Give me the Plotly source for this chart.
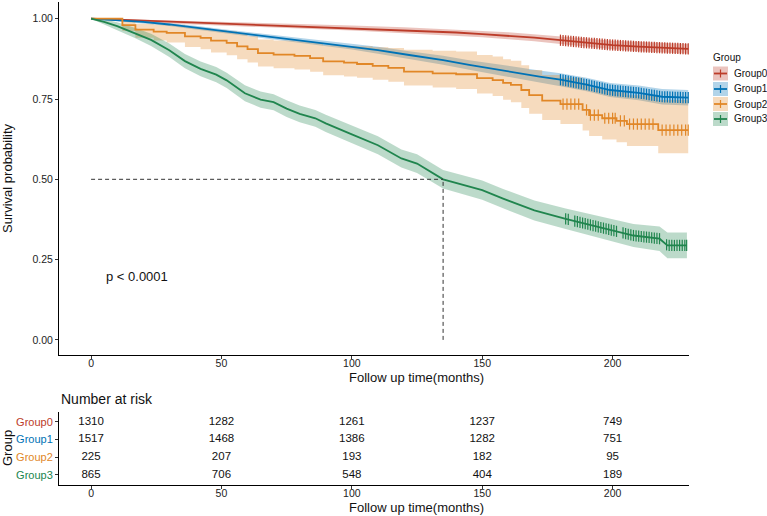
import numpy as np
import plotly.graph_objects as go

W, H = 767, 516
FONT = "Liberation Sans, Arial, Helvetica, sans-serif"

groups = ["Group0", "Group1", "Group2", "Group3"]
colors = ["#BC3C29", "#0072B5", "#E18727", "#20854E"]
band_colors = ["rgba(188,60,41,0.30)", "rgba(0,114,181,0.30)",
               "rgba(225,135,39,0.30)", "rgba(32,133,78,0.30)"]

# ---------------- survival data ----------------
g0_time = [0, 10, 20, 30, 40, 50, 60, 80, 100, 120, 140, 150, 160, 170, 180, 190, 200, 210, 220, 229]
g0_surv = [1.000, 0.997, 0.993, 0.990, 0.987, 0.984, 0.981, 0.976, 0.971, 0.964, 0.957, 0.952, 0.947, 0.941, 0.933, 0.925, 0.918, 0.913, 0.909, 0.906]
g0_lower = [1.000, 0.994, 0.989, 0.985, 0.982, 0.978, 0.975, 0.969, 0.963, 0.955, 0.947, 0.942, 0.936, 0.930, 0.921, 0.912, 0.905, 0.899, 0.894, 0.891]
g0_upper = [1.000, 1.000, 0.997, 0.995, 0.992, 0.990, 0.987, 0.983, 0.979, 0.973, 0.967, 0.962, 0.958, 0.952, 0.945, 0.938, 0.931, 0.927, 0.924, 0.921]
g0_censor = [180, 181, 182, 183, 184, 185, 186, 187, 188, 189, 190, 191, 192, 193, 194, 195, 196, 197, 198, 199,
             200, 201, 202, 203, 204, 205, 206, 207, 208, 209, 210, 211, 212, 213, 214, 215, 216, 217, 218, 219,
             220, 221, 222, 223, 224, 225, 226, 227, 228, 229]

g1_time = [0, 10, 20, 30, 40, 50, 60, 70, 85, 100, 110, 122, 135, 145, 160, 172, 180, 190, 199, 210, 219, 229]
g1_surv = [1.000, 0.996, 0.990, 0.982, 0.972, 0.962, 0.952, 0.942, 0.928, 0.914, 0.902, 0.887, 0.871, 0.856, 0.835, 0.820, 0.810, 0.795, 0.778, 0.769, 0.757, 0.754]
g1_lower = [1.000, 0.993, 0.986, 0.977, 0.966, 0.956, 0.945, 0.934, 0.919, 0.904, 0.891, 0.875, 0.857, 0.841, 0.818, 0.801, 0.790, 0.774, 0.756, 0.746, 0.733, 0.730]
g1_upper = [1.000, 0.999, 0.994, 0.987, 0.978, 0.968, 0.959, 0.950, 0.937, 0.924, 0.913, 0.899, 0.885, 0.871, 0.852, 0.839, 0.830, 0.816, 0.800, 0.792, 0.781, 0.778]
g1_censor = [180, 181, 182, 183, 184, 185, 186, 187, 188, 189, 190, 191, 192, 193, 194, 195, 196, 197, 198, 199,
             200, 201, 202, 203, 204, 205, 206, 207, 208, 209, 210, 211, 212, 213, 214, 215, 216, 217, 218, 219,
             220, 221, 222, 223, 224, 225, 226, 227, 228, 229]

g2_time = [0, 12, 17, 24, 29, 36, 42, 46, 52, 56, 60, 64, 70, 78, 84, 89, 97, 102, 108, 114,
           120, 131, 140, 148, 154, 158, 161, 165, 168, 173, 180, 188.5, 191, 196, 201.5, 205.5, 217.5, 229]
g2_surv = [1.000, 0.980, 0.966, 0.960, 0.956, 0.945, 0.940, 0.932, 0.925, 0.914, 0.905, 0.893, 0.888, 0.884, 0.877, 0.867, 0.863, 0.859, 0.853, 0.847,
           0.835, 0.830, 0.827, 0.815, 0.809, 0.800, 0.794, 0.778, 0.762, 0.745, 0.734, 0.716, 0.700, 0.690, 0.682, 0.672, 0.653, 0.653]
g2_lower = [1.000, 0.962, 0.941, 0.932, 0.926, 0.912, 0.905, 0.895, 0.886, 0.874, 0.864, 0.851, 0.846, 0.842, 0.835, 0.824, 0.820, 0.816, 0.810, 0.804,
            0.792, 0.786, 0.781, 0.767, 0.759, 0.748, 0.740, 0.722, 0.704, 0.685, 0.672, 0.652, 0.635, 0.624, 0.615, 0.604, 0.581, 0.581]
g2_upper = [1.000, 0.992, 0.984, 0.982, 0.981, 0.973, 0.970, 0.965, 0.961, 0.952, 0.945, 0.935, 0.932, 0.930, 0.925, 0.917, 0.915, 0.914, 0.911, 0.909,
            0.903, 0.900, 0.898, 0.887, 0.882, 0.874, 0.869, 0.855, 0.840, 0.825, 0.816, 0.800, 0.786, 0.778, 0.771, 0.762, 0.747, 0.747]
g2_censor = [181, 182.5, 184, 185.5, 187, 190, 191.5, 193, 194.5, 197, 198.5, 200, 201, 203, 204.5, 206.5, 208, 209.5,
             211, 212.5, 214, 215.5, 219, 220.5, 222, 223.5, 225, 226.5, 228, 229]

g3_time = [0, 5, 10, 17, 23, 30, 36, 42, 48, 52, 59, 65, 70, 75, 80, 86, 90, 100, 110, 119,
           125, 135, 150, 158, 170, 182, 195, 208, 218, 221, 228.5]
g3_surv = [1.000, 0.990, 0.977, 0.955, 0.934, 0.902, 0.868, 0.844, 0.826, 0.808, 0.768, 0.748, 0.740, 0.720, 0.704, 0.690, 0.674, 0.640, 0.606, 0.565,
           0.549, 0.500, 0.466, 0.440, 0.403, 0.377, 0.351, 0.325, 0.315, 0.294, 0.294]
g3_lower = [1.000, 0.982, 0.965, 0.939, 0.915, 0.881, 0.846, 0.821, 0.802, 0.784, 0.743, 0.723, 0.715, 0.694, 0.678, 0.664, 0.647, 0.613, 0.578, 0.537,
            0.520, 0.471, 0.436, 0.410, 0.372, 0.345, 0.317, 0.289, 0.277, 0.254, 0.254]
g3_upper = [1.000, 0.998, 0.989, 0.971, 0.953, 0.923, 0.890, 0.867, 0.850, 0.832, 0.793, 0.773, 0.765, 0.746, 0.730, 0.716, 0.701, 0.667, 0.634, 0.593,
            0.578, 0.529, 0.496, 0.470, 0.434, 0.409, 0.385, 0.361, 0.353, 0.334, 0.334]
g3_censor = [182, 183, 185.5, 186.5, 187.5, 188.5, 189.5, 190.5, 191.5, 192.5, 193.5, 194.5, 195.5, 196.5, 197.5,
             198.5, 199.5, 200.5, 201.5, 204, 205, 206, 207, 208, 209, 210, 211, 212, 213, 214, 215, 216, 217, 218,
             220.7, 221.7, 222.7, 223.7, 224.7, 225.7, 226.7, 227.7, 228.4]

# number at risk table
risk_times = [0, 50, 100, 150, 200]
risk_g0 = [1310, 1282, 1261, 1237, 749]
risk_g1 = [1517, 1468, 1386, 1282, 751]
risk_g2 = [225, 207, 193, 182, 95]
risk_g3 = [865, 706, 548, 404, 189]

x_ticks = [0, 50, 100, 150, 200]
y_ticks = [0.00, 0.25, 0.50, 0.75, 1.00]
p_text = "p < 0.0001"

series = [
    (g0_time, g0_surv, g0_lower, g0_upper, g0_censor, "linear"),
    (g1_time, g1_surv, g1_lower, g1_upper, g1_censor, "linear"),
    (g2_time, g2_surv, g2_lower, g2_upper, g2_censor, "hv"),
    (g3_time, g3_surv, g3_lower, g3_upper, g3_censor, "linear"),
]
risk = [risk_g0, risk_g1, risk_g2, risk_g3]


def surv_at(times, surv, t, shape):
    if shape == "hv":
        idx = np.searchsorted(np.array(times), t, side="right") - 1
        return float(surv[idx])
    return float(np.interp(t, times, surv))


fig = go.Figure()

# bands
for i, (t, s, lo, hi, cens, shape) in enumerate(series):
    fig.add_trace(go.Scatter(x=t, y=hi, mode="lines", line=dict(width=0, shape=shape),
                             hoverinfo="skip", showlegend=False, xaxis="x", yaxis="y"))
    fig.add_trace(go.Scatter(x=t, y=lo, mode="lines", line=dict(width=0, shape=shape),
                             fill="tonexty", fillcolor=band_colors[i],
                             hoverinfo="skip", showlegend=False, xaxis="x", yaxis="y"))

# curves + censor marks
for i, (t, s, lo, hi, cens, shape) in enumerate(series):
    fig.add_trace(go.Scatter(x=t, y=s, mode="lines", line=dict(color=colors[i], width=1.8, shape=shape),
                             name=groups[i], showlegend=False, xaxis="x", yaxis="y"))
    cy = [surv_at(t, s, c, shape) for c in cens]
    fig.add_trace(go.Scatter(x=cens, y=cy, mode="markers",
                             marker=dict(symbol="line-ns", size=8, color=colors[i],
                                         line=dict(color=colors[i], width=1.2)),
                             showlegend=False, hoverinfo="skip", xaxis="x", yaxis="y"))

# median line for Group3
g3_t = np.array(g3_time)
g3_s = np.array(g3_surv)
median_t = float(g3_t[np.argmax(g3_s <= 0.5)])
fig.add_trace(go.Scatter(x=[0, median_t], y=[0.5, 0.5], mode="lines",
                         line=dict(color="#333333", width=1, dash="4px,3px"),
                         showlegend=False, hoverinfo="skip", xaxis="x", yaxis="y"))
fig.add_trace(go.Scatter(x=[median_t, median_t], y=[0, 0.5], mode="lines",
                         line=dict(color="#333333", width=1, dash="4px,3px"),
                         showlegend=False, hoverinfo="skip", xaxis="x", yaxis="y"))

# risk table numbers
row_pos = [3, 2, 1, 0]
for i in range(4):
    fig.add_trace(go.Scatter(x=risk_times, y=[row_pos[i]] * len(risk_times), mode="text",
                             text=[str(v) for v in risk[i]], textposition="middle center",
                             textfont=dict(family=FONT, size=11.5, color="#111111"),
                             showlegend=False, hoverinfo="skip", xaxis="x2", yaxis="y2"))


def px(xp):
    return xp / W


def py(yp):
    return 1 - yp / H


xdom = [px(59), px(689)]
xrange = [-12.3, 229.3]
axis_common = dict(showgrid=False, zeroline=False, showline=True, linecolor="#000000", linewidth=1,
                   ticks="outside", ticklen=3, tickwidth=1, tickcolor="#333333")
tick_font = dict(family=FONT, size=10.5, color="#222222")

fig.update_layout(
    width=W, height=H, autosize=False,
    margin=dict(l=0, r=0, t=0, b=0),
    paper_bgcolor="white", plot_bgcolor="white",
    showlegend=False,
    xaxis=dict(domain=xdom, range=xrange, tickvals=x_ticks, anchor="y", tickfont=tick_font,
               ticklabelstandoff=-5, **axis_common),
    yaxis=dict(domain=[py(355), py(2)], range=[-0.047, 1.052], tickvals=y_ticks,
               tickformat=".2f", anchor="x", tickfont=tick_font, **axis_common),
    xaxis2=dict(domain=xdom, range=xrange, tickvals=x_ticks, anchor="y2", tickfont=tick_font,
                ticklabelstandoff=-5, **axis_common),
    yaxis2=dict(domain=[py(485), py(412)], range=[-0.57, 3.56], anchor="x2",
                tickvals=row_pos,
                ticktext=[f'<span style="color:{colors[i]}">{groups[i]}</span>' for i in range(4)],
                tickfont=dict(family=FONT, size=11), **axis_common),
)

ann = []
txt = dict(family=FONT, color="#111111")
ann.append(dict(x=px(416), y=py(377), xref="paper", yref="paper", text="Follow up time(months)",
                showarrow=False, font=dict(size=13, **txt), xanchor="center", yanchor="middle"))
ann.append(dict(x=px(416), y=py(507), xref="paper", yref="paper", text="Follow up time(months)",
                showarrow=False, font=dict(size=13, **txt), xanchor="center", yanchor="middle"))
ann.append(dict(x=px(8), y=py(178), xref="paper", yref="paper", text="Survival probability",
                showarrow=False, textangle=-90, font=dict(size=13, **txt), xanchor="center", yanchor="middle"))
ann.append(dict(x=px(7), y=py(448), xref="paper", yref="paper", text="Group",
                showarrow=False, textangle=-90, font=dict(size=13, **txt), xanchor="center", yanchor="middle"))
ann.append(dict(x=px(59), y=py(399), xref="paper", yref="paper", text="Number at risk",
                showarrow=False, font=dict(size=14, **txt), xanchor="left", yanchor="middle"))
ann.append(dict(x=5, y=0.197, xref="x", yref="y", text=p_text,
                showarrow=False, font=dict(size=13, **txt), xanchor="left", yanchor="middle"))

# legend (manual)
ann.append(dict(x=px(711), y=py(58), xref="paper", yref="paper", text="Group",
                showarrow=False, font=dict(size=10, **txt), xanchor="left", yanchor="middle"))
shapes = []
leg_rows = [73.5, 89, 104, 119]
for i in range(4):
    r = leg_rows[i]
    shapes.append(dict(type="rect", xref="paper", yref="paper", x0=px(713), x1=px(728),
                       y0=py(r + 7), y1=py(r - 7), fillcolor=band_colors[i], line=dict(width=0)))
    shapes.append(dict(type="line", xref="paper", yref="paper", x0=px(714), x1=px(727),
                       y0=py(r), y1=py(r), line=dict(color=colors[i], width=1.8)))
    shapes.append(dict(type="line", xref="paper", yref="paper", x0=px(720.5), x1=px(720.5),
                       y0=py(r + 4), y1=py(r - 4), line=dict(color=colors[i], width=1.2)))
    ann.append(dict(x=px(732), y=py(r), xref="paper", yref="paper", text=groups[i],
                    showarrow=False, font=dict(size=10, **txt), xanchor="left", yanchor="middle"))

fig.update_layout(annotations=ann, shapes=shapes)

fig.write_html("out.html")
